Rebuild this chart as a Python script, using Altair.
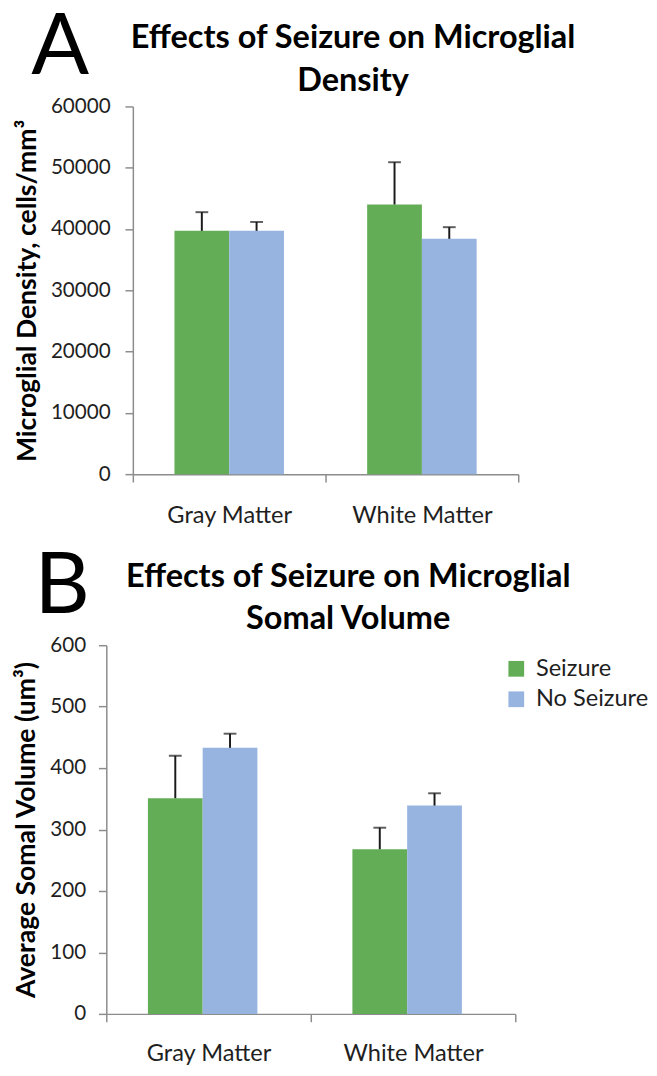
import altair as alt
import pandas as pd

regions = ["Gray Matter", "White Matter"]
groups = ["Seizure", "No Seizure"]
colors = ["#62ad55", "#97b4e0"]
panel_letters = ["A", "B"]
title_a = ["Effects of Seizure on Microglial", "Density"]
title_b = ["Effects of Seizure on Microglial", "Somal Volume"]

density_seizure = [39700, 44000]
density_seizure_err = [3050, 6900]
density_no_seizure = [39700, 38400]
density_no_seizure_err = [1450, 1900]
density_ticks = [0, 10000, 20000, 30000, 40000, 50000, 60000]

volume_seizure = [351, 268]
volume_seizure_err = [69, 35]
volume_no_seizure = [433, 339]
volume_no_seizure_err = [23, 20]
volume_ticks = [0, 100, 200, 300, 400, 500, 600]

FONT = "Lato"
AXIS_GRAY = "#8c8c8c"
TEXT = "#1f1f1f"


def make_df(seiz, seiz_err, noseiz, noseiz_err):
    rows = []
    for i, r in enumerate(regions):
        rows.append({"region": r, "group": groups[0], "value": seiz[i], "upper": seiz[i] + seiz_err[i]})
        rows.append({"region": r, "group": groups[1], "value": noseiz[i], "upper": noseiz[i] + noseiz_err[i]})
    return pd.DataFrame(rows)


def panel(df, ticks, ytitle, title_lines, letter, plot_w, height, shift, title_x,
          letter_x, xlabel_pad, ylabel_pad, show_legend):
    # 'shift' moves the plotting area right inside the view (the y axis follows it)
    x = alt.X("region:N", sort=regions,
              scale=alt.Scale(paddingInner=0, paddingOuter=0, range=[shift, shift + plot_w]),
              axis=alt.Axis(title=None, tickBand="extent", tickSize=8,
                            labelPadding=xlabel_pad, labelFontSize=24, labelFont=FONT,
                            labelColor=TEXT, domainColor=AXIS_GRAY, tickColor=AXIS_GRAY,
                            labelAngle=0, domainWidth=1.5, tickWidth=1.5))
    y = alt.Y("value:Q", scale=alt.Scale(domain=[ticks[0], ticks[-1]], nice=False),
              axis=alt.Axis(title=ytitle, values=ticks, format="d", tickSize=8,
                            offset=-shift,
                            labelPadding=ylabel_pad, labelFontSize=21, labelFont=FONT,
                            labelColor=TEXT, domainColor=AXIS_GRAY, tickColor=AXIS_GRAY,
                            domainWidth=1.5, tickWidth=1.5, grid=False,
                            titleFont=FONT, titleFontSize=27, titleFontWeight="bold",
                            titleColor="black", titlePadding=9))
    xoff = alt.XOffset("group:N", sort=groups,
                       scale=alt.Scale(paddingOuter=0.76, paddingInner=0))
    if show_legend:
        leg = alt.Legend(title=None, orient="none", legendX=405, legendY=12,
                         symbolType="square", symbolSize=256, symbolStrokeWidth=0,
                         labelFontSize=24, labelFont=FONT, labelColor=TEXT,
                         rowPadding=7, labelOffset=8)
    else:
        leg = None
    color = alt.Color("group:N", sort=groups,
                      scale=alt.Scale(domain=groups, range=colors), legend=leg)

    bars = alt.Chart(df).mark_bar().encode(x=x, y=y, xOffset=xoff, color=color)
    rules = alt.Chart(df).mark_rule(color="#1a1a1a", strokeWidth=2).encode(
        x=x, xOffset=xoff, y="value:Q", y2="upper:Q")
    caps = alt.Chart(df).mark_tick(color="#1a1a1a", thickness=2, size=13,
                                   orient="horizontal").encode(
        x=x, xOffset=xoff, y="upper:Q")
    lab = alt.Chart(pd.DataFrame({"letter": [letter]})).mark_text(
        font=FONT, fontSize=87, align="center", baseline="alphabetic", color="black"
    ).encode(text="letter:N", x=alt.value(letter_x), y=alt.value(-33))
    ttl = alt.Chart(pd.DataFrame({"t": ["\n".join(title_lines)]})).mark_text(
        font=FONT, fontSize=33, fontWeight="bold", align="center",
        baseline="alphabetic", color="black", lineBreak="\n", lineHeight=43
    ).encode(text="t:N", x=alt.value(title_x), y=alt.value(-59))

    return alt.layer(bars, rules, caps, lab, ttl).properties(
        width=shift + plot_w, height=height)


df_a = make_df(density_seizure, density_seizure_err, density_no_seizure, density_no_seizure_err)
df_b = make_df(volume_seizure, volume_seizure_err, volume_no_seizure, volume_no_seizure_err)

chart_a = panel(df_a, density_ticks, "Microglial Density, cells/mm³",
                title_a, panel_letters[0], 392, 374, 27, 251, -47, 22, 15, False)
chart_b = panel(df_b, volume_ticks, "Average Somal Volume (um³)",
                title_b, panel_letters[1], 416, 375, 0, 246, -45, 20, 13, True)

chart = alt.concat(chart_a, chart_b, columns=1, spacing=17).resolve_legend(
    color="independent"
).properties(
    align="none",
    padding={"left": 5, "top": -12, "right": 0, "bottom": 0},
    background="white",
).configure_view(stroke=None)

chart.save("out.html", embed_options={"renderer": "svg", "actions": False})
